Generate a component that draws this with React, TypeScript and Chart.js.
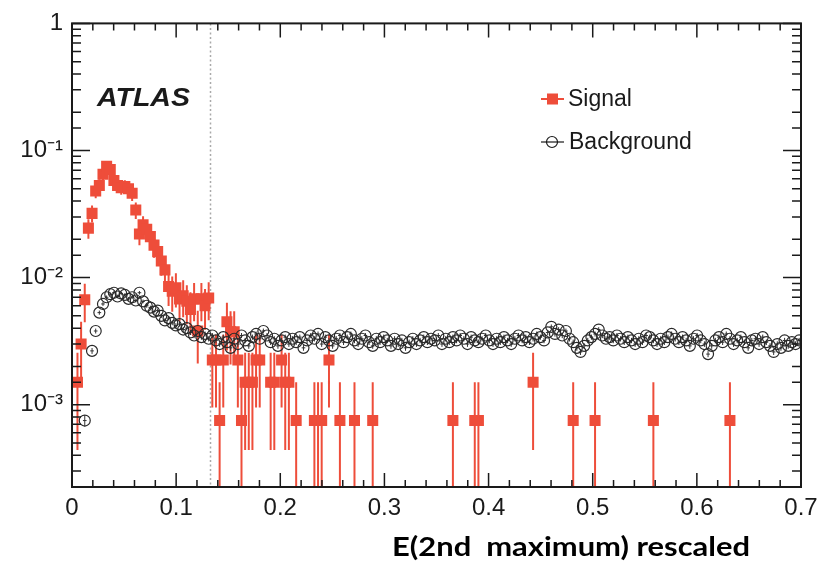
import React, { useEffect, useRef } from "react";
import { Chart, registerables } from "chart.js";

Chart.register(...registerables);

// ---------- data ----------
const BIN_WIDTH = 0.0035; // 200 bins over 0..0.7
const CUT_VALUE = 0.133;
const SIGNAL_EVENT_WEIGHT = 7.5e-4; // normalised weight of one signal event
const BACKGROUND_EVENT_WEIGHT = 7.5e-6;

// signal, bins 0..37 (before the cut)
const signalPeakValues: (number | null)[] = [
  null, 1.5e-3, 3.0e-3, 6.7e-3, 0.0245, 0.032, 0.048, 0.053, 0.065, 0.075,
  0.071, 0.058, 0.053, 0.051, 0.052, 0.05, 0.046, 0.034, 0.022, 0.026,
  0.024, 0.021, 0.018, 0.016, 0.0135, 0.0115, 0.0085, 0.0078, 0.0083, 0.0068,
  0.0072, 0.0065, 0.0056, 0.0068, 0.0038, 0.0068, 0.006, 0.0069,
];

// signal after the cut: bin index and value
const signalTailBins = [
  38, 39, 40, 41, 42, 43, 44, 45, 46, 47, 48, 49, 50, 51, 54, 55, 57, 58, 59,
  61, 66, 67, 68, 70, 73, 77, 82, 104, 110, 111, 126, 137, 143, 159, 180,
];
const signalTailValues = [
  2.25e-3, 2.25e-3, 7.5e-4, 2.25e-3, 4.5e-3, 3.75e-3, 3.75e-3, 2.25e-3, 7.5e-4, 1.5e-3,
  1.5e-3, 1.5e-3, 2.25e-3, 2.25e-3, 1.5e-3, 1.5e-3, 2.25e-3, 1.5e-3, 1.5e-3,
  7.5e-4, 7.5e-4, 7.5e-4, 7.5e-4, 2.25e-3, 7.5e-4, 7.5e-4, 7.5e-4, 7.5e-4, 7.5e-4,
  7.5e-4, 1.5e-3, 7.5e-4, 7.5e-4, 7.5e-4, 7.5e-4,
];

// background, bins 0..199
const backgroundValues: (number | null)[] = [
  null, null, null, 7.5e-4, null, 2.65e-3, 3.8e-3, 5.3e-3, 6.2e-3, 7.0e-3,
  7.4e-3, 7.6e-3, 7.1e-3, 7.5e-3, 7.3e-3, 6.8e-3, 7.0e-3, 6.6e-3, 7.6e-3, 6.5e-3,
  6.0e-3, 5.8e-3, 5.4e-3, 5.5e-3, 5.0e-3, 4.6e-3, 4.8e-3, 4.4e-3, 4.2e-3, 4.3e-3,
  3.9e-3, 4.0e-3, 3.7e-3, 3.5e-3, 3.8e-3, 3.4e-3, 3.6e-3, 3.3e-3, 3.5e-3, 3.2e-3,
  3.0e-3, 3.4e-3, 3.1e-3, 2.8e-3, 3.3e-3, 3.0e-3, 3.5e-3, 3.2e-3, 2.9e-3, 3.4e-3,
  3.6e-3, 3.3e-3, 3.8e-3, 3.5e-3, 3.1e-3, 3.3e-3, 2.9e-3, 3.2e-3, 3.4e-3, 3.0e-3,
  3.3e-3, 3.1e-3, 3.4e-3, 2.8e-3, 3.2e-3, 3.5e-3, 3.3e-3, 3.6e-3, 3.0e-3, 3.4e-3,
  3.2e-3, 2.9e-3, 3.3e-3, 3.5e-3, 3.1e-3, 3.4e-3, 3.6e-3, 3.2e-3, 3.0e-3, 3.3e-3,
  3.5e-3, 3.1e-3, 2.9e-3, 3.3e-3, 3.1e-3, 3.4e-3, 3.2e-3, 2.9e-3, 3.3e-3, 3.0e-3,
  3.2e-3, 2.8e-3, 3.1e-3, 3.3e-3, 3.0e-3, 3.2e-3, 3.4e-3, 3.1e-3, 3.3e-3, 3.2e-3,
  3.5e-3, 3.0e-3, 3.3e-3, 3.1e-3, 3.4e-3, 3.2e-3, 3.5e-3, 3.3e-3, 3.0e-3, 3.4e-3,
  3.2e-3, 3.1e-3, 3.3e-3, 3.5e-3, 3.2e-3, 3.0e-3, 3.3e-3, 3.1e-3, 3.4e-3, 3.2e-3,
  3.0e-3, 3.3e-3, 3.5e-3, 3.2e-3, 3.4e-3, 3.1e-3, 3.3e-3, 3.6e-3, 3.4e-3, 3.2e-3,
  3.7e-3, 4.1e-3, 3.6e-3, 3.9e-3, 3.5e-3, 3.8e-3, 3.3e-3, 3.1e-3, 2.8e-3, 2.6e-3,
  2.9e-3, 3.2e-3, 3.4e-3, 3.6e-3, 3.9e-3, 3.5e-3, 3.3e-3, 3.4e-3, 3.2e-3, 3.5e-3,
  3.3e-3, 3.1e-3, 3.4e-3, 3.2e-3, 3.0e-3, 3.3e-3, 3.1e-3, 3.5e-3, 3.4e-3, 3.2e-3,
  3.0e-3, 3.3e-3, 3.1e-3, 3.4e-3, 3.6e-3, 3.3e-3, 3.1e-3, 3.4e-3, 3.2e-3, 2.9e-3,
  3.3e-3, 3.5e-3, 3.2e-3, 3.0e-3, 2.5e-3, 2.9e-3, 3.2e-3, 3.4e-3, 3.1e-3, 3.6e-3,
  3.3e-3, 3.0e-3, 3.2e-3, 3.4e-3, 3.1e-3, 2.8e-3, 3.2e-3, 3.3e-3, 3.0e-3, 3.4e-3,
  3.1e-3, 2.9e-3, 2.6e-3, 3.0e-3, 2.8e-3, 3.2e-3, 2.9e-3, 3.1e-3, 3.0e-3, 3.2e-3,
];

const X_MIN = 0;
const X_MAX = 0.7;
const X_MINOR_STEP = 0.02;
const Y_MIN = 2.25e-4;
const Y_MAX = 1;
const xTickValues = [0, 0.1, 0.2, 0.3, 0.4, 0.5, 0.6, 0.7];
const xTickLabels = ["0", "0.1", "0.2", "0.3", "0.4", "0.5", "0.6", "0.7"];
const yTickValues = [1, 0.1, 0.01, 0.001];
const yTickLabels = ["1", "10\u207B\u00B9", "10\u207B\u00B2", "10\u207B\u00B3"];
const seriesNames = ["Signal", "Background"];
const experimentLabel = "ATLAS";
const xAxisTitle = "E(2nd  maximum) rescaled";

const RED = "#ee4d3a";
const INK = "#1a1a1a";

type Pt = { x: number; y: number };

const binCenter = (i: number) => (i + 0.5) * BIN_WIDTH;

const signalPoints: Pt[] = [];
signalPeakValues.forEach((v, i) => {
  if (v !== null) signalPoints.push({ x: binCenter(i), y: v });
});
signalTailBins.forEach((b, k) => signalPoints.push({ x: binCenter(b), y: signalTailValues[k] }));

const backgroundPoints: Pt[] = [];
backgroundValues.forEach((v, i) => {
  if (v !== null) backgroundPoints.push({ x: binCenter(i), y: v });
});

const isClose = (a: number, b: number) => Math.abs(a - b) < 1e-9 * Math.max(1, Math.abs(b)) + 1e-12;

function drawErrors(ctx: CanvasRenderingContext2D, xs: any, ys: any, area: any, pts: Pt[], weight: number, color: string, width: number) {
  ctx.strokeStyle = color;
  ctx.lineWidth = width;
  ctx.beginPath();
  for (const p of pts) {
    const px = xs.getPixelForValue(p.x);
    const py = ys.getPixelForValue(p.y);
    const err = Math.sqrt(p.y * weight);
    const top = ys.getPixelForValue(p.y + err);
    const lo = p.y - err;
    const bottom = lo > Y_MIN * 0.05 ? ys.getPixelForValue(lo) : area.bottom + 10;
    ctx.moveTo(px, top);
    ctx.lineTo(px, bottom);
    ctx.moveTo(xs.getPixelForValue(p.x - BIN_WIDTH / 2), py);
    ctx.lineTo(xs.getPixelForValue(p.x + BIN_WIDTH / 2), py);
  }
  ctx.stroke();
}

function fillFitted(ctx: CanvasRenderingContext2D, text: string, x: number, y: number, width: number) {
  const w = ctx.measureText(text).width;
  ctx.save();
  ctx.translate(x, y);
  ctx.scale(width / w, 1);
  ctx.fillText(text, 0, 0);
  ctx.restore();
}

const decorPlugin = {
  id: "atlasDecor",
  beforeDatasetsDraw(chart: any) {
    const { ctx, chartArea: a } = chart;
    const xs = chart.scales.x;
    const ys = chart.scales.y;
    ctx.save();
    ctx.beginPath();
    ctx.rect(a.left, a.top, a.right - a.left, a.bottom - a.top);
    ctx.clip();
    // cut line
    const cx = xs.getPixelForValue(CUT_VALUE);
    ctx.strokeStyle = "#a9a9a9";
    ctx.lineWidth = 1.5;
    ctx.setLineDash([2, 2.5]);
    ctx.beginPath();
    ctx.moveTo(cx, a.top);
    ctx.lineTo(cx, a.bottom);
    ctx.stroke();
    ctx.setLineDash([]);
    drawErrors(ctx, xs, ys, a, signalPoints, SIGNAL_EVENT_WEIGHT, RED, 2);
    drawErrors(ctx, xs, ys, a, backgroundPoints, BACKGROUND_EVENT_WEIGHT, "#333", 1);
    ctx.restore();
  },
  afterDraw(chart: any) {
    const { ctx, chartArea: a } = chart;
    const xs = chart.scales.x;
    const ys = chart.scales.y;
    ctx.save();
    // ticks
    ctx.strokeStyle = INK;
    ctx.lineWidth = 1.5;
    ctx.beginPath();
    const nMinor = Math.round((X_MAX - X_MIN) / X_MINOR_STEP);
    for (let i = 0; i <= nMinor; i++) {
      const v = X_MIN + i * X_MINOR_STEP;
      const major = xTickValues.some((t) => isClose(t, v));
      const len = major ? 14 : 7;
      const px = xs.getPixelForValue(v);
      ctx.moveTo(px, a.bottom);
      ctx.lineTo(px, a.bottom - len);
      ctx.moveTo(px, a.top);
      ctx.lineTo(px, a.top + len);
    }
    for (const t of ys.ticks) {
      const v = t.value;
      if (v <= Y_MIN * 1.0001 || v > Y_MAX) continue;
      const major = yTickValues.some((m) => isClose(m, v));
      const len = major ? 18 : 9;
      const py = ys.getPixelForValue(v);
      ctx.moveTo(a.left, py);
      ctx.lineTo(a.left + len, py);
      ctx.moveTo(a.right, py);
      ctx.lineTo(a.right - len, py);
    }
    ctx.stroke();
    // frame
    ctx.lineWidth = 2;
    ctx.strokeRect(a.left, a.top, a.right - a.left, a.bottom - a.top);

    // ATLAS label
    ctx.fillStyle = INK;
    ctx.textBaseline = "alphabetic";
    ctx.textAlign = "left";
    ctx.font = "bold italic 26px 'Liberation Sans', Arial, sans-serif";
    fillFitted(ctx, experimentLabel, 97, 106, 93);

    // legend
    const legendX0 = 541;
    const legendX1 = 564;
    const rows = [99, 142];
    // signal entry
    ctx.strokeStyle = RED;
    ctx.lineWidth = 2;
    ctx.beginPath();
    ctx.moveTo(legendX0, rows[0]);
    ctx.lineTo(legendX1, rows[0]);
    ctx.stroke();
    ctx.fillStyle = RED;
    ctx.fillRect(547, rows[0] - 5.5, 11, 11);
    // background entry
    ctx.strokeStyle = INK;
    ctx.lineWidth = 1.2;
    ctx.beginPath();
    ctx.moveTo(legendX0, rows[1]);
    ctx.lineTo(legendX1, rows[1]);
    ctx.stroke();
    ctx.beginPath();
    ctx.arc(552, rows[1], 5.5, 0, Math.PI * 2);
    ctx.stroke();
    ctx.fillStyle = INK;
    ctx.font = "23px 'Liberation Sans', Arial, sans-serif";
    ctx.textBaseline = "middle";
    ctx.fillText(seriesNames[0], 568, rows[0] + 1);
    ctx.fillText(seriesNames[1], 569, rows[1] + 1);

    // x axis title
    ctx.textBaseline = "alphabetic";
    ctx.fillStyle = "#000";
    ctx.font = "bold 26px Lato, 'Open Sans', sans-serif";
    fillFitted(ctx, xAxisTitle, 392, 556, 358);
    ctx.restore();
  },
};

export default function App() {
  const canvasRef = useRef<HTMLCanvasElement | null>(null);

  useEffect(() => {
    if (!canvasRef.current) return;
    const chart = new Chart(canvasRef.current, {
      type: "scatter",
      data: {
        datasets: [
          {
            label: seriesNames[1],
            data: backgroundPoints,
            pointStyle: "circle",
            pointRadius: 5.5,
            pointBackgroundColor: "rgba(0,0,0,0)",
            pointBorderColor: "#2a2a2a",
            pointBorderWidth: 1.2,
            showLine: false,
          },
          {
            label: seriesNames[0],
            data: signalPoints,
            pointStyle: "rect",
            pointRadius: 7.8,
            pointBackgroundColor: RED,
            pointBorderColor: RED,
            pointBorderWidth: 0,
            showLine: false,
          },
        ],
      },
      options: {
        responsive: false,
        animation: false,
        devicePixelRatio: 1,
        events: [],
        layout: { padding: { top: 15, right: 27, left: 0, bottom: 0 } },
        plugins: {
          legend: { display: false },
          tooltip: { enabled: false },
          title: { display: false },
        },
        scales: {
          x: {
            type: "linear",
            min: X_MIN,
            max: X_MAX,
            grid: { display: false, drawTicks: false },
            border: { display: false },
            ticks: {
              stepSize: 0.1,
              autoSkip: false,
              maxRotation: 0,
              padding: 7,
              color: INK,
              font: { family: "'Liberation Sans', Arial, sans-serif", size: 24 },
              callback: (v: any) => {
                const i = xTickValues.findIndex((t) => isClose(t, Number(v)));
                return i >= 0 ? xTickLabels[i] : "";
              },
            },
            afterFit: (s: any) => {
              s.height = 76;
            },
          },
          y: {
            type: "logarithmic",
            min: Y_MIN,
            max: Y_MAX,
            grid: { display: false, drawTicks: false },
            border: { display: false },
            ticks: {
              autoSkip: false,
              padding: 9,
              color: INK,
              font: { family: "'Liberation Sans', Arial, sans-serif", size: 24 },
              callback: (v: any) => {
                const i = yTickValues.findIndex((t) => isClose(t, Number(v)));
                return i >= 0 ? yTickLabels[i] : "";
              },
            },
            afterFit: (s: any) => {
              s.width = 72;
            },
          },
        },
      },
      plugins: [decorPlugin],
    } as any);
    return () => chart.destroy();
  }, []);

  return (
    <div style={{ position: "fixed", left: 0, top: 0, width: 828, height: 563, background: "#fff" }}>
      <canvas ref={canvasRef} width={828} height={563} style={{ width: 828, height: 563, display: "block" }} />
    </div>
  );
}
